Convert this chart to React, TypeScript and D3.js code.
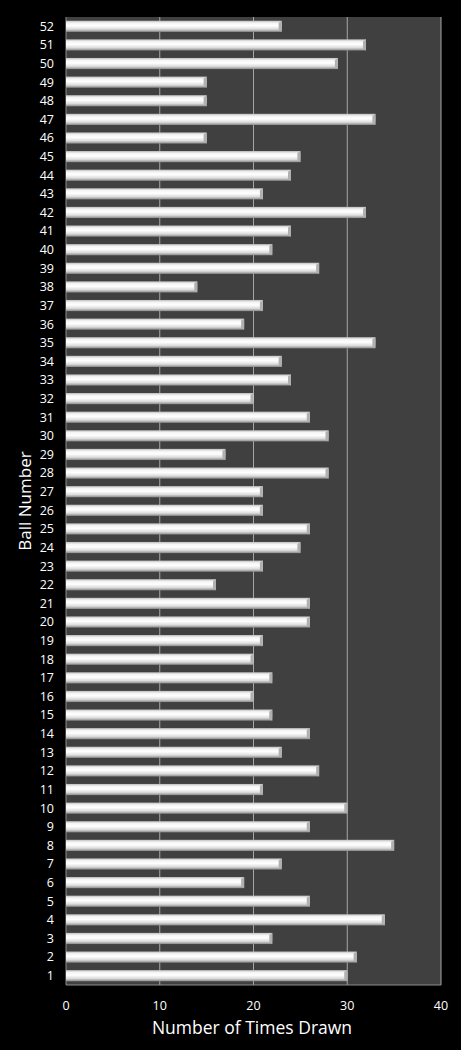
import { scaleBand, scaleLinear, range } from "d3";

const balls = range(1, 53).map(String);
const timesDrawn = [
  30, 31, 22, 34, 26, 19, 23, 35, 26, 30,
  21, 27, 23, 26, 22, 20, 22, 20, 21, 26,
  26, 16, 21, 25, 26, 21, 21, 28, 17, 28,
  26, 20, 24, 23, 33, 19, 21, 14, 27, 22,
  24, 32, 21, 24, 25, 15, 33, 15, 15, 29,
  32, 23,
];
const xTicks = [0, 10, 20, 30, 40];

const W = 461;
const H = 1050;
const LEFT = 66;
const RIGHT = 441;
const TOP = 17;
const BOTTOM = 985;

export default function App() {
  const x = scaleLinear().domain([0, 40]).range([LEFT, RIGHT]);
  const y = scaleBand<string>()
    .domain([...balls].reverse())
    .range([TOP, BOTTOM])
    .paddingInner(0.4)
    .paddingOuter(0.2);
  const font = "'Open Sans', 'DejaVu Sans', sans-serif";

  return (
    <svg
      width={W}
      height={H}
      style={{ position: "absolute", left: 0, top: 0, background: "#000" }}
    >
      <defs>
        <linearGradient id="barGrad" x1="0" y1="0" x2="0" y2="1">
          <stop offset="0" stopColor="#bdbdbd" />
          <stop offset="0.2" stopColor="#f4f4f4" />
          <stop offset="0.45" stopColor="#ffffff" />
          <stop offset="0.75" stopColor="#dcdcdc" />
          <stop offset="1" stopColor="#8a8a8a" />
        </linearGradient>
      </defs>
      <rect x={0} y={0} width={W} height={H} fill="#000" />
      <rect x={LEFT} y={TOP} width={RIGHT - LEFT} height={BOTTOM - TOP} fill="#404040" />
      {xTicks.slice(1).map((t) => (
        <line key={t} x1={x(t)} x2={x(t)} y1={TOP} y2={BOTTOM} stroke="#a6a6a6" strokeWidth={1} />
      ))}
      <line x1={LEFT} x2={RIGHT} y1={BOTTOM} y2={BOTTOM} stroke="#8c8c8c" />
      <line x1={LEFT} x2={LEFT} y1={TOP} y2={BOTTOM} stroke="#8c8c8c" />
      {balls.map((b, i) => {
        const yy = y(b) ?? 0;
        const bw = x(timesDrawn[i]) - x(0);
        const bh = y.bandwidth();
        return (
          <g key={b}>
            <rect x={LEFT} y={yy} width={bw} height={bh} fill="url(#barGrad)" />
            <path
              d={`M${LEFT + bw - 3},${yy + 2} L${LEFT + bw},${yy} L${LEFT + bw},${yy + bh} L${LEFT + bw - 3},${yy + bh - 2} Z`}
              fill="#b0b0b0"
            />
          </g>
        );
      })}
      {balls.map((b) => (
        <text
          key={b}
          x={54}
          y={(y(b) ?? 0) + y.bandwidth() / 2}
          dy="0.35em"
          textAnchor="end"
          fill="#fff"
          fontSize={12.5}
          fontFamily={font}
        >
          {b}
        </text>
      ))}
      {xTicks.map((t) => (
        <text
          key={t}
          x={x(t)}
          y={1010}
          textAnchor="middle"
          fill="#fff"
          fontSize={12.5}
          fontFamily={font}
        >
          {t}
        </text>
      ))}
      <text x={252} y={1034} textAnchor="middle" fill="#fff" fontSize={17.5} fontFamily={font}>
        Number of Times Drawn
      </text>
      <text
        transform={`translate(31,${(TOP + BOTTOM) / 2}) rotate(-90)`}
        textAnchor="middle"
        fill="#fff"
        fontSize={17}
        fontFamily={font}
      >
        Ball Number
      </text>
    </svg>
  );
}
